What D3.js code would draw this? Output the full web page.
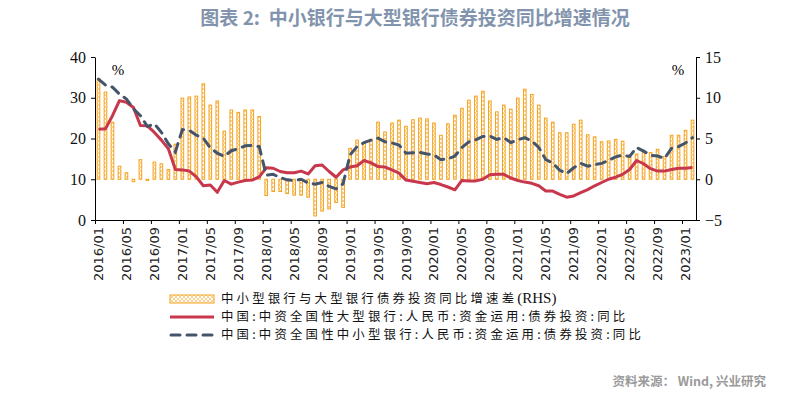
<!DOCTYPE html>
<html>
<head>
<meta charset="utf-8">
<script src="https://cdn.jsdelivr.net/npm/d3@7/dist/d3.min.js"></script>
<style>
  body { margin: 0; background: #fff; }
  svg { display: block; }
</style>
</head>
<body>
<div id="chart"></div>
<script>
// months 2016/01 .. 2023/02
const months = [];
for (let y = 2016; y <= 2023; y++) {
  for (let m = 1; m <= 12; m++) {
    if (y === 2023 && m > 2) break;
    months.push(y + '/' + String(m).padStart(2, '0'));
  }
}

// 中资全国性大型银行 债券投资 同比 (LHS)
const largeBank = [
  22.3, 22.4, 25.6, 29.3, 28.9, 27.6, 23.2, 23.1, 21.5, 19.6, 17.5, 12.4,
  12.3, 12.0, 10.6, 8.4, 8.6, 6.8, 9.7, 8.8, 9.3, 9.7, 9.8, 10.6,
  12.8, 12.7, 11.9, 11.6, 11.6, 12.0, 11.3, 13.3, 13.5, 11.9, 10.5, 12.3,
  13.0, 13.3, 14.6, 14.0, 13.1, 13.0, 12.3, 11.5, 9.8, 9.5, 9.2, 8.9,
  9.2, 8.7, 8.1, 7.4, 9.7, 9.6, 9.6, 10.0, 11.1, 11.2, 11.2, 10.3,
  9.7, 9.3, 9.0, 8.4, 7.1, 7.1, 6.3, 5.6, 5.9, 6.7, 7.45, 8.4,
  9.2, 10.0, 10.5, 11.2, 12.4, 14.6, 13.8, 12.6, 12.0, 12.0, 12.4, 12.7,
  12.7, 12.9
];

// 中资全国性中小型银行 债券投资 同比 (LHS)
const smallBank = [
  34.6, 33.1, 32.6, 30.9, 29.7, 27.3, 25.6, 22.95, 23.6, 21.5, 18.7, 16.7,
  22.2, 22.0, 20.8, 20.1, 17.7, 16.4, 15.6, 17.0, 17.5, 18.2, 18.3, 18.0,
  11.0, 11.2, 10.4, 9.85, 9.65, 10.0, 9.1, 8.8, 9.2, 8.25, 7.65, 8.9,
  16.0, 18.0, 19.0, 19.6, 20.1, 19.2, 18.9, 18.4, 16.4, 16.5, 16.6, 16.2,
  16.0, 14.8, 15.0, 15.7, 17.8, 19.2, 19.7, 20.5, 20.6, 19.8, 20.2, 19.0,
  19.7, 20.2, 19.4, 17.8, 14.8, 14.0, 12.2, 11.4, 12.8, 13.9, 13.2, 13.6,
  13.9, 14.6, 15.5, 15.9, 15.6, 17.8, 16.9, 15.9, 15.7, 15.1, 17.6, 18.0,
  18.9, 20.2
];

// 中小型银行与大型银行债券投资同比增速差 (RHS)
const spread = [
  12.3, 10.7, 7.0, 1.6, 0.8, -0.3, 2.4, -0.15, 2.1, 1.9, 1.2, 4.3,
  9.95, 10.1, 10.2, 11.7, 9.1, 9.6, 5.9, 8.5, 8.2, 8.5, 8.5, 7.7,
  -2.0, -1.5, -1.5, -1.75, -1.95, -1.95, -2.2, -4.5, -3.9, -3.65, -2.85, -3.45,
  3.8, 4.8, 4.4, 4.9, 7.0, 5.8, 6.9, 7.25, 6.5, 7.3, 7.5, 7.4,
  6.9, 5.4, 6.8, 7.85, 8.7, 9.7, 10.2, 10.8, 9.6, 8.27, 9.1, 8.6,
  9.95, 11.05, 10.4, 9.1, 7.5, 7.0, 5.7, 5.7, 6.75, 7.25, 5.45, 5.2,
  4.6, 4.7, 4.9, 4.67, 2.74, 3.1, 3.55, 3.27, 3.68, 2.8, 5.4, 5.4,
  6.0, 7.25
];

const leftTicks = [0, 10, 20, 30, 40];
const rightTicks = [-5, 0, 5, 10, 15];
const legendNames = [
  ['中小型银行与大型银行债券投资同比增速差', '(RHS)'],
  ['中国:中资全国性大型银行:人民币:资金运用:债券投资:同比', ''],
  ['中国:中资全国性中小型银行:人民币:资金运用:债券投资:同比', '']
];

const W = 786, H = 396;
const margin = { top: 57, right: 90, bottom: 176, left: 95 };
const innerW = W - margin.left - margin.right;
const innerH = H - margin.top - margin.bottom;

const RED = '#c8374b';
const NAVY = '#44546a';
const ORANGE = '#f5a21d';

const svg = d3.select('#chart').append('svg')
  .attr('width', W)
  .attr('height', H);

// bar fill pattern (small crosses)
const defs = svg.append('defs');
const pat = defs.append('pattern')
  .attr('id', 'xhatch')
  .attr('patternUnits', 'userSpaceOnUse')
  .attr('width', 4)
  .attr('height', 4);
pat.append('rect').attr('width', 4).attr('height', 4).attr('fill', '#fff');
pat.append('path')
  .attr('d', 'M0,0L4,4M4,0L0,4')
  .attr('stroke', ORANGE)
  .attr('stroke-width', 0.5);

// title
svg.append('text')
  .attr('x', 415)
  .attr('y', 25)
  .attr('text-anchor', 'middle')
  .style('font-family', '"Noto Sans CJK SC", sans-serif')
  .style('font-weight', 'bold')
  .style('font-size', '19px')
  .style('fill', '#8294ad')
  .text('图表 2:\u00a0\u00a0中小银行与大型银行债券投资同比增速情况');

const g = svg.append('g')
  .attr('transform', 'translate(' + margin.left + ',' + margin.top + ')');

// scales
const x = d3.scaleBand()
  .domain(months)
  .range([0, innerW])
  .paddingInner(0.62)
  .paddingOuter(0.31);
const xEdge = d3.scaleLinear()
  .domain([0, months.length])
  .range([0, innerW]);
const yL = d3.scaleLinear().domain([0, 40]).range([innerH, 0]);
const yR = d3.scaleLinear().domain([-5, 15]).range([innerH, 0]);
const cx = function (d, i) { return x(months[i]) + x.bandwidth() / 2; };

// bars (RHS)
g.selectAll('.bar')
  .data(spread)
  .enter().append('rect')
  .attr('class', 'bar')
  .attr('x', function (d, i) { return x(months[i]); })
  .attr('y', function (d) { return yR(Math.max(0, d)); })
  .attr('width', x.bandwidth())
  .attr('height', function (d) { return Math.abs(yR(d) - yR(0)); })
  .attr('fill', 'url(#xhatch)')
  .attr('stroke', ORANGE)
  .attr('stroke-width', 1);

// lines (LHS)
const line = d3.line()
  .x(cx)
  .y(function (d) { return yL(d); });

g.append('path')
  .datum(largeBank)
  .attr('d', line)
  .attr('fill', 'none')
  .attr('stroke', RED)
  .attr('stroke-width', 3)
  .attr('stroke-linejoin', 'round');

g.append('path')
  .datum(smallBank)
  .attr('d', line)
  .attr('fill', 'none')
  .attr('stroke', NAVY)
  .attr('stroke-width', 3)
  .attr('stroke-dasharray', '9,7')
  .attr('stroke-linecap', 'round');

// axes
const axisStyle = function (sel) {
  sel.selectAll('path, line').attr('stroke', '#000');
};

g.append('g')
  .call(d3.axisLeft(yL).tickValues(leftTicks).tickSize(4).tickSizeOuter(0).tickPadding(5))
  .call(axisStyle)
  .selectAll('text')
  .style('font-family', '"Liberation Serif", "Times New Roman", serif')
  .style('font-size', '16px')
  .style('fill', '#111');

g.append('g')
  .attr('transform', 'translate(' + innerW + ',0)')
  .call(d3.axisRight(yR).tickValues(rightTicks).tickSize(4).tickSizeOuter(0).tickPadding(5))
  .call(axisStyle)
  .selectAll('text')
  .style('font-family', '"Liberation Serif", "Times New Roman", serif')
  .style('font-size', '16px')
  .style('fill', '#111');

// x axis: tick marks at category edges, labels at category centres
const edgeTicks = d3.range(0, months.length, 4);
g.append('g')
  .attr('transform', 'translate(0,' + innerH + ')')
  .call(d3.axisBottom(xEdge).tickValues(edgeTicks).tickSize(4).tickSizeOuter(0).tickFormat(''))
  .call(axisStyle);

const labelMonths = months.filter(function (m, i) { return i % 4 === 0; });
const xLab = g.append('g')
  .attr('transform', 'translate(0,' + innerH + ')')
  .call(d3.axisBottom(x).tickValues(labelMonths).tickSize(0).tickSizeOuter(0));
xLab.select('.domain').remove();
xLab.selectAll('text')
  .attr('transform', 'rotate(-90)')
  .attr('x', -7)
  .attr('y', 0)
  .attr('dy', '0.35em')
  .style('text-anchor', 'end')
  .style('font-family', '"DejaVu Sans", Verdana, sans-serif')
  .style('font-size', '13px')
  .style('fill', '#222');

// unit labels
g.append('text')
  .attr('x', 23)
  .attr('y', 18)
  .attr('text-anchor', 'middle')
  .style('font-family', '"Liberation Serif", serif')
  .style('font-size', '15px')
  .text('%');
g.append('text')
  .attr('x', innerW - 18)
  .attr('y', 18)
  .attr('text-anchor', 'middle')
  .style('font-family', '"Liberation Serif", serif')
  .style('font-size', '15px')
  .text('%');

// legend
const lg = svg.append('g').attr('transform', 'translate(170,299)');
const rowH = 18;
lg.append('rect')
  .attr('x', 0).attr('y', -4)
  .attr('width', 44).attr('height', 8)
  .attr('fill', 'url(#xhatch)')
  .attr('stroke', ORANGE)
  .attr('stroke-width', 1);
lg.append('line')
  .attr('x1', 0).attr('x2', 44)
  .attr('y1', rowH).attr('y2', rowH)
  .attr('stroke', RED).attr('stroke-width', 3);
lg.append('line')
  .attr('x1', 1).attr('x2', 44)
  .attr('y1', rowH * 2).attr('y2', rowH * 2)
  .attr('stroke', NAVY).attr('stroke-width', 3)
  .attr('stroke-dasharray', '9,7')
  .attr('stroke-linecap', 'round');
const lt = lg.selectAll('.lt')
  .data(legendNames)
  .enter().append('text')
  .attr('class', 'lt')
  .attr('x', 51)
  .attr('y', function (d, i) { return i * rowH; })
  .attr('dy', '0.35em')
  .style('font-family', '"Noto Sans CJK SC", sans-serif')
  .style('font-size', '12.4px')
  .style('fill', '#111');
lt.append('tspan')
  .style('letter-spacing', '3.2px')
  .text(function (d) { return d[0]; });
lt.append('tspan')
  .style('font-family', '"Liberation Serif", serif')
  .style('font-size', '15px')
  .text(function (d) { return d[1]; });

// source
svg.append('text')
  .attr('x', 766)
  .attr('y', 386)
  .attr('text-anchor', 'end')
  .style('font-family', '"Noto Sans CJK SC", sans-serif')
  .style('font-weight', 'bold')
  .style('font-size', '12.5px')
  .style('fill', '#9a9a9a')
  .text('资料来源： Wind, 兴业研究');
</script>
</body>
</html>
